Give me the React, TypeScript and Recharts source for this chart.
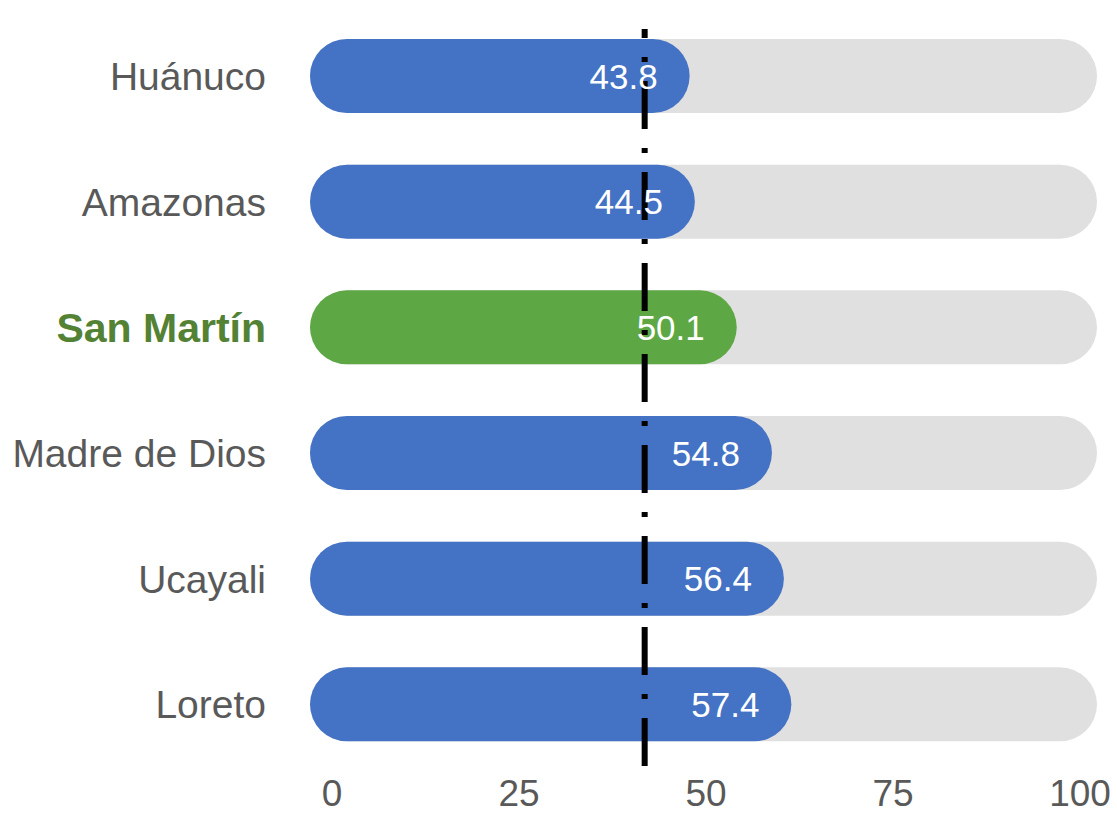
import { Bar, BarChart, Cell, LabelList, ReferenceLine, XAxis, YAxis } from "recharts"

const regions = ["Huánuco", "Amazonas", "San Martín", "Madre de Dios", "Ucayali", "Loreto"]
const values = [43.8, 44.5, 50.1, 54.8, 56.4, 57.4]
const highlight = "San Martín"
const xTicks = [0, 25, 50, 75, 100]
const refValue = 41.8

// axis runs a little past 0 and 100 so the rounded ends of the track fit
const X_MIN = -2.94
const X_MAX = 102.27
const CAP = 30

const BLUE = "#4472C4"
const GREEN = "#5DA845"
const GREEN_TEXT = "#548235"
const GRAY_TEXT = "#595959"
const FONT = "'Liberation Sans', Arial, sans-serif"

const data = regions.map((name, i) => ({ name, value: values[i] }))

function PillBar(props: any) {
  const { x, y, width, height, fill } = props
  return <rect x={x} y={y} width={width + CAP} height={height} rx={height / 2} ry={height / 2} fill={fill} />
}

function ValueLabel(props: any) {
  const { x, y, width, height, value } = props
  return (
    <text
      x={x + width + CAP - 32}
      y={y + height / 2}
      dy="0.36em"
      textAnchor="end"
      fill="#fff"
      fontSize={35}
      fontFamily={FONT}
    >
      {Number(value).toFixed(1)}
    </text>
  )
}

function RegionTick(props: any) {
  const { x, y, payload } = props
  const hl = payload.value === highlight
  return (
    <text
      x={x}
      y={y}
      dy="0.36em"
      textAnchor="end"
      fill={hl ? GREEN_TEXT : GRAY_TEXT}
      fontWeight={hl ? 700 : 400}
      fontSize={hl ? 41 : 39}
      fontFamily={FONT}
    >
      {payload.value}
    </text>
  )
}

function DashLine(props: any) {
  const { x1, y1, x2, y2 } = props
  return (
    <line
      x1={x1}
      x2={x2}
      y1={y1 - 1}
      y2={y2 + 16}
      stroke="#000"
      strokeWidth={6}
      strokeDasharray="48 19 5 19"
    />
  )
}

export default function App() {
  return (
    <div style={{ position: "absolute", left: 0, top: 0, background: "#fff" }}>
      <BarChart
        width={1117}
        height={813}
        data={data}
        layout="vertical"
        margin={{ top: 13, right: 20, bottom: 6, left: 0 }}
        barSize={74}
      >
        <XAxis
          type="number"
          domain={[X_MIN, X_MAX]}
          ticks={xTicks}
          allowDataOverflow
          axisLine={false}
          tickLine={false}
          tickSize={0}
          tickMargin={13}
          height={40}
          tick={{ fill: GRAY_TEXT, fontSize: 37, fontFamily: FONT }}
        />
        <YAxis
          type="category"
          dataKey="name"
          width={310}
          axisLine={false}
          tickLine={false}
          tickSize={0}
          tickMargin={44}
          tick={<RegionTick />}
        />
        <Bar
          dataKey={(d: any) => [X_MIN, d.value]}
          background={{ fill: "#E0E0E0", radius: 37 } as any}
          shape={<PillBar />}
          isAnimationActive={false}
        >
          {data.map((d) => (
            <Cell key={d.name} fill={d.name === highlight ? GREEN : BLUE} />
          ))}
          <LabelList dataKey="value" content={<ValueLabel />} />
        </Bar>
        <ReferenceLine x={refValue} shape={<DashLine />} />
      </BarChart>
    </div>
  )
}
